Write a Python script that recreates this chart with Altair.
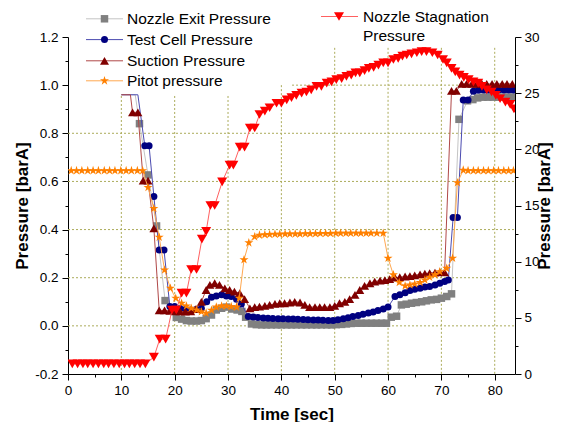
import altair as alt
import pandas as pd

# ---------------- data ----------------
# Nozzle Exit Pressure [barA] (left axis)
exit_lead_t = [10.0, 12.6]
exit_lead_v = [0.96, 0.96]
exit_t = [13.4, 15.0, 16.6, 18.2, 20.3, 21.3, 22.2, 23.1, 24.1, 25.0,
          25.9, 26.9, 27.8, 28.8, 29.7, 30.7, 31.7, 32.6, 33.3, 34.4,
          35.3, 36.3, 37.2, 38.1, 39.1, 40.0, 41.0, 41.9, 42.8, 43.8,
          44.7, 45.7, 46.6, 47.5, 48.5, 49.4, 50.3, 51.3, 52.2, 53.1,
          54.1, 55.0, 55.9, 56.9, 57.8, 58.8, 59.7, 60.6, 61.6, 62.5,
          63.4, 64.4, 65.3, 66.3, 67.2, 68.1, 69.1, 70.0, 71.0, 71.9,
          73.3, 74.9, 75.9, 76.8, 77.8, 78.7, 79.7, 80.6, 81.6, 82.5,
          83.5]
exit_v = [0.84, 0.627, 0.415, 0.105, 0.035, 0.028, 0.022, 0.02, 0.02, 0.022,
          0.03, 0.045, 0.066, 0.073, 0.078, 0.07, 0.066, 0.06, 0.036, 0.008,
          0.005, 0.004, 0.004, 0.004, 0.004, 0.004, 0.004, 0.004, 0.004, 0.004,
          0.004, 0.004, 0.004, 0.004, 0.004, 0.004, 0.005, 0.006, 0.008, 0.01,
          0.011, 0.011, 0.011, 0.011, 0.011, 0.011, 0.011, 0.036, 0.04, 0.087,
          0.09, 0.094, 0.097, 0.1, 0.104, 0.108, 0.11, 0.115, 0.122, 0.133,
          0.858, 0.935, 0.94, 0.947, 0.95, 0.95, 0.95, 0.95, 0.95, 0.95,
          0.95]

# Test Cell Pressure [barA] (left axis)
test_lead_t = [10.0, 13.1]
test_lead_v = [0.96, 0.96]
test_t = [14.4, 15.2, 16.1, 17.1, 18.0, 19.1, 20.0, 21.0, 22.0, 23.0,
          24.0, 25.0, 26.0, 26.9, 27.8, 28.8, 29.7, 30.6, 31.6, 32.5,
          33.8, 34.7, 35.6, 36.6, 37.5, 38.4, 39.4, 40.3, 41.3, 42.2,
          43.1, 44.1, 45.0, 46.0, 46.9, 47.8, 48.8, 49.7, 50.6, 51.6,
          52.5, 53.4, 54.4, 55.3, 56.3, 57.2, 58.1, 59.1, 60.0, 61.3,
          62.2, 63.2, 64.1, 65.0, 66.0, 66.9, 67.8, 68.8, 69.7, 70.6,
          71.3, 72.2, 73.0, 74.1, 75.0, 76.0, 76.9, 77.9, 78.8, 79.8,
          80.7, 81.7, 82.6, 83.5]
test_v = [0.748, 0.748, 0.537, 0.315, 0.315, 0.08, 0.08, 0.072, 0.068, 0.066,
          0.068, 0.073, 0.1, 0.119, 0.124, 0.129, 0.124, 0.122, 0.111, 0.091,
          0.039, 0.037, 0.035, 0.033, 0.032, 0.031, 0.03, 0.03, 0.029, 0.028,
          0.027, 0.026, 0.025, 0.024, 0.024, 0.023, 0.022, 0.022, 0.025, 0.03,
          0.034, 0.039, 0.043, 0.048, 0.053, 0.058, 0.064, 0.07, 0.078, 0.122,
          0.129, 0.138, 0.147, 0.152, 0.156, 0.161, 0.163, 0.17, 0.177, 0.184,
          0.191, 0.45, 0.45, 0.938, 0.938, 0.975, 0.979, 0.98, 0.98, 0.98,
          0.98, 0.98, 0.98, 0.98]

# Suction Pressure [barA] (left axis)
suc_lead_t = [10.0, 11.7]
suc_lead_v = [0.96, 0.96]
suc_t = [12.1, 13.1, 14.1, 15.0, 16.1, 17.1, 18.1, 19.1, 20.0, 21.0,
         22.0, 23.0, 24.0, 25.0, 25.9, 26.6, 27.5, 28.4, 29.4, 30.3,
         31.2, 32.2, 33.1, 34.1, 35.0, 35.9, 36.9, 37.8, 38.8, 39.7,
         40.6, 41.6, 42.5, 43.5, 44.4, 45.3, 46.3, 47.2, 48.1, 49.1,
         50.0, 50.9, 51.9, 52.8, 53.8, 54.7, 55.6, 56.6, 57.5, 58.5,
         59.4, 60.3, 61.3, 62.2, 63.2, 64.1, 65.0, 66.0, 66.9, 67.8,
         68.8, 69.7, 70.6, 71.9, 72.8, 73.8, 74.7, 75.7, 76.6, 77.6,
         78.5, 79.5, 80.4, 81.4, 82.3, 83.3]
suc_v = [0.887, 0.887, 0.603, 0.603, 0.405, 0.064, 0.064, 0.062, 0.06, 0.06,
         0.059, 0.06, 0.07, 0.1, 0.149, 0.17, 0.177, 0.17, 0.156, 0.149,
         0.142, 0.136, 0.111, 0.073, 0.078, 0.08, 0.083, 0.087, 0.091, 0.094,
         0.094, 0.097, 0.1, 0.097, 0.087, 0.078, 0.078, 0.078, 0.078, 0.078,
         0.083, 0.094, 0.1, 0.111, 0.129, 0.149, 0.166, 0.177, 0.184, 0.188,
         0.19, 0.194, 0.2, 0.202, 0.205, 0.207, 0.21, 0.214, 0.217, 0.219,
         0.221, 0.223, 0.222, 0.976, 0.976, 1.005, 1.005, 1.005, 1.005, 1.005,
         1.005, 1.005, 1.005, 1.005, 1.005, 1.005]

# Pitot pressure [barA] (left axis)
pit_t = [0.6, 1.6, 2.6, 3.7, 4.7, 5.7, 6.8, 7.8, 8.8, 9.9,
         10.9, 11.9, 13.0, 14.0, 15.0, 16.1, 17.1, 18.1, 19.2, 20.2,
         21.3, 22.2, 23.1, 24.1, 25.0, 25.9, 26.9, 27.8, 28.8, 29.7,
         30.6, 31.6, 32.1, 33.0, 33.9, 35.0, 35.9, 36.9, 37.8, 38.8,
         39.7, 40.7, 41.6, 42.6, 43.5, 44.5, 45.4, 46.4, 47.3, 48.3,
         49.2, 50.2, 51.1, 52.1, 53.0, 54.0, 54.9, 55.9, 56.8, 57.9,
         59.1, 60.0, 61.0, 62.1, 63.2, 64.1, 65.0, 66.0, 66.9, 67.8,
         68.8, 69.7, 71.0, 72.1, 73.0, 74.1, 75.0, 76.0, 76.9, 77.9,
         78.8, 79.8, 80.7, 81.7, 82.6, 83.5]
pit_v = [0.645, 0.645, 0.645, 0.645, 0.645, 0.645, 0.645, 0.645, 0.645, 0.645,
         0.645, 0.645, 0.645, 0.645, 0.575, 0.488, 0.368, 0.232, 0.156, 0.115,
         0.094, 0.083, 0.073, 0.066, 0.059, 0.053, 0.065, 0.078, 0.083, 0.083,
         0.08, 0.078, 0.115, 0.275, 0.345, 0.37, 0.377, 0.379, 0.38, 0.381,
         0.381, 0.382, 0.382, 0.382, 0.382, 0.383, 0.383, 0.383, 0.384, 0.384,
         0.384, 0.385, 0.385, 0.385, 0.385, 0.385, 0.385, 0.385, 0.385, 0.385,
         0.385, 0.281, 0.212, 0.18, 0.166, 0.17, 0.174, 0.18, 0.191, 0.202,
         0.212, 0.225, 0.239, 0.281, 0.595, 0.647, 0.645, 0.645, 0.645, 0.645,
         0.645, 0.645, 0.645, 0.645, 0.645, 0.645]

# Nozzle Stagnation Pressure [barA] (right axis)
stag_t = [0.8, 1.8, 2.8, 3.7, 4.7, 5.7, 6.7, 7.6, 8.6, 9.6,
          10.6, 11.5, 12.5, 13.5, 14.5, 16.1, 17.2, 18.3, 19.5, 20.3,
          21.3, 22.2, 23.1, 24.1, 25.1, 25.9, 26.7, 27.5, 28.9, 30.3,
          31.0, 32.2, 33.1, 34.1, 35.0, 35.9, 36.9, 37.8, 39.1, 40.0,
          41.0, 41.9, 42.8, 43.8, 44.7, 45.6, 46.6, 47.5, 48.5, 49.4,
          50.3, 51.3, 52.2, 53.1, 53.9, 54.7, 55.6, 56.4, 57.3, 58.2,
          59.1, 60.0, 61.0, 61.9, 62.7, 63.5, 64.4, 65.4, 66.3, 67.2,
          68.3, 69.3, 70.3, 71.0, 71.9, 72.6, 73.4, 74.2, 75.1, 76.0,
          76.9, 77.6, 78.5, 79.4, 80.2, 81.0, 82.0, 82.9, 83.6]
stag_r = [0.9, 0.9, 0.9, 0.9, 0.9, 0.9, 0.9, 0.9, 0.9, 0.9,
          0.9, 0.9, 0.9, 0.9, 0.9, 1.5, 3.1, 3.1, 5.7, 5.7,
          7.2, 7.2, 9.3, 9.3, 12.0, 12.7, 15.0, 15.0, 17.1, 18.6,
          18.6, 20.2, 20.2, 21.9, 21.9, 23.1, 23.4, 23.7, 24.1, 24.1,
          24.4, 24.6, 24.8, 25.0, 25.1, 25.3, 25.6, 25.6, 25.9, 26.0,
          26.2, 26.3, 26.5, 26.6, 26.8, 26.8, 27.0, 27.2, 27.3, 27.5,
          27.7, 27.7, 28.0, 28.1, 28.3, 28.4, 28.5, 28.6, 28.7, 28.7,
          28.6, 28.4, 28.0, 27.7, 27.2, 26.9, 26.6, 26.4, 26.2, 26.0,
          25.9, 25.6, 25.3, 25.1, 24.8, 24.5, 24.2, 24.0, 23.6]

legend_labels = ["Nozzle Exit Pressure", "Test Cell Pressure",
                 "Suction Pressure", "Pitot pressure"]
stag_label = ["Nozzle Stagnation", "Pressure"]

x_tick_values = [0, 5, 10, 15, 20, 25, 30, 35, 40, 45, 50, 55, 60, 65, 70, 75, 80]
left_tick_values = [-0.2, -0.1, 0.0, 0.1, 0.2, 0.3, 0.4, 0.5, 0.6, 0.7,
                    0.8, 0.9, 1.0, 1.1, 1.2]
right_tick_values = [0, 2.5, 5, 7.5, 10, 12.5, 15, 17.5, 20, 22.5, 25, 27.5, 30]

# ---------------- layout / style ----------------
W, H = 447, 337
X_MAX = 83.8
FONT = "Liberation Sans"
GRID = "#abab5a"
STAR = ("M0,-1L0.225,-0.31L0.951,-0.309L0.363,0.118L0.588,0.809L0,0.382"
        "L-0.588,0.809L-0.363,0.118L-0.951,-0.309L-0.225,-0.31Z")

xs = alt.Scale(domain=[0, X_MAX], nice=False, zero=False)
ys = alt.Scale(domain=[-0.2, 1.2], nice=False, zero=False)
rs = alt.Scale(domain=[0, 30], nice=False, zero=False)

MAJ_X = "datum.value % 10 === 0"
MAJ_Y = "abs(round(datum.value * 10)) % 2 === 0"
MAJ_R = "datum.value % 5 === 0"

x_axis = alt.Axis(
    values=x_tick_values, title="Time [sec]",
    labelExpr=f"{MAJ_X} ? format(datum.value, 'd') : ''",
    tickSize={"condition": {"test": MAJ_X, "value": 6}, "value": 3},
    grid=False, labelFlush=False, labelOverlap=False, labelPadding=3,
    labelFontSize=13.5, titleFontSize=17, titleFontWeight="bold",
    titleX=W / 2, titleY=40, titleAlign="center", titleBaseline="middle",
)
y_axis = alt.Axis(
    values=left_tick_values, title="Pressure [barA]",
    labelExpr=f"{MAJ_Y} ? replace(format(datum.value, '.1f'), '\u2212', '-') : ''",
    tickSize={"condition": {"test": MAJ_Y, "value": 6}, "value": 3},
    grid=False, labelFlush=False, labelOverlap=False, labelPadding=4,
    labelFontSize=13.5, titleFontSize=17, titleFontWeight="bold",
    titleAngle=270, titleX=-46, titleY=H / 2, titleAlign="center",
    titleBaseline="middle",
)
r_axis = alt.Axis(
    orient="right", values=right_tick_values, title="Pressure [barA]",
    labelExpr=f"{MAJ_R} ? format(datum.value, 'd') : ''",
    tickSize={"condition": {"test": MAJ_R, "value": 6}, "value": 3},
    grid=False, labelFlush=False, labelOverlap=False, labelPadding=3,
    labelFontSize=13.5, titleFontSize=17, titleFontWeight="bold",
    titleAngle=270, titleX=29, titleY=H / 2, titleAlign="center",
    titleBaseline="middle",
)

X = lambda f: alt.X(f, type="quantitative", scale=xs, axis=x_axis)
Y = lambda f: alt.Y(f, type="quantitative", scale=ys, axis=y_axis)
R = lambda f: alt.Y(f, type="quantitative", scale=rs, axis=r_axis)


def series(t, v, lead_t, lead_v, ychan, line_color, mark_color, shape, size):
    line_df = pd.DataFrame({"t": lead_t + t, "v": lead_v + v})
    pt_df = pd.DataFrame({"t": t, "v": v})
    line = alt.Chart(line_df).mark_line(
        color=line_color, strokeWidth=1, clip=True
    ).encode(x=X("t"), y=ychan("v"), order="t:Q")
    pts = alt.Chart(pt_df).mark_point(
        shape=shape, size=size, filled=True, color=mark_color,
        opacity=1, strokeWidth=0, clip=True
    ).encode(x=X("t"), y=ychan("v"))
    return [line, pts]


# grid (dotted olive); vertical lines partly hidden by the legend box
grid_vx = [10, 20, 30, 40, 50, 60, 70, 80]
grid_vtop = [0.955, 0.955, 0.955, 1.0, 1.155, 1.155, 1.155, 1.155]
grid_hy = [0.0, 0.2, 0.4, 0.6, 0.8, 1.0]
grid_hx0 = [0, 0, 0, 0, 0, 42]
vgrid = alt.Chart(pd.DataFrame({"t": grid_vx, "top": grid_vtop, "bot": [-0.2] * 8})).mark_rule(
    color=GRID, strokeWidth=1, strokeDash=[2, 2]
).encode(x=X("t"), y=Y("top"), y2="bot")
hgrid = alt.Chart(pd.DataFrame({"v": grid_hy, "x0": grid_hx0, "x1": [X_MAX] * 6})).mark_rule(
    color=GRID, strokeWidth=1, strokeDash=[2, 2]
).encode(y=Y("v"), x=X("x0"), x2="x1")


def legend_entry(px_line, px_mark, px_text, py, shape, size, mcolor, lcolor, label):
    base = alt.Chart(pd.DataFrame({"label": [label]}))
    line = base.mark_rule(color=lcolor, strokeWidth=1).encode(
        x=alt.value(px_line[0]), x2=alt.value(px_line[1]), y=alt.value(py))
    pt = base.mark_point(shape=shape, size=size, filled=True, color=mcolor,
                         opacity=1, strokeWidth=0).encode(
        x=alt.value(px_mark), y=alt.value(py))
    txt = base.mark_text(align="left", baseline="middle", font=FONT,
                         fontSize=15.5, color="black").encode(
        x=alt.value(px_text), y=alt.value(py), text="label:N")
    return [line, pt, txt]


styles = [
    ("square", 56, "#808080", "#c4c4c4"),
    ("circle", 49, "#000080", "#4b4bb0"),
    ("triangle-up", 81, "#800000", "#b04848"),
    (STAR, 90, "#ff8000", "#ffa850"),
]
rows_y = [-18.2, 2.6, 23.8, 43.8]

left_layers = [vgrid, hgrid]
left_layers += series(exit_t, exit_v, exit_lead_t, exit_lead_v, Y, styles[0][3], styles[0][2], styles[0][0], styles[0][1])
left_layers += series(test_t, test_v, test_lead_t, test_lead_v, Y, styles[1][3], styles[1][2], styles[1][0], styles[1][1])
left_layers += series(suc_t, suc_v, suc_lead_t, suc_lead_v, Y, styles[2][3], styles[2][2], styles[2][0], styles[2][1])
left_layers += series(pit_t, pit_v, [], [], Y, styles[3][3], styles[3][2], styles[3][0], styles[3][1])
for i, lab in enumerate(legend_labels):
    shp, sz, mc, lc = styles[i]
    left_layers += legend_entry((18, 55), 36.5, 59, rows_y[i], shp, sz, mc, lc, lab)

right_layers = series(stag_t, stag_r, [], [], R, "#ff6060", "#ff0000", "triangle-down", 100)
right_layers += legend_entry((253, 290), 271, 295, -20.5, "triangle-down", 100, "#ff0000", "#ff6060", stag_label[0])
right_layers.append(
    alt.Chart(pd.DataFrame({"label": [stag_label[1]]})).mark_text(
        align="left", baseline="middle", font=FONT, fontSize=15.5, color="black"
    ).encode(x=alt.value(295), y=alt.value(-1.5), text="label:N")
)

left = alt.layer(*left_layers)
right = alt.layer(*right_layers)

chart = alt.layer(left, right).resolve_scale(y="independent").properties(
    width=W, height=H,
    padding={"left": 60, "top": 29, "right": 40, "bottom": 48},
    autosize=alt.AutoSizeParams(type="none"),
    background="white",
).configure_view(stroke=None).configure_axis(
    domainColor="black", domainWidth=1, tickColor="black", tickWidth=1,
    labelColor="black", titleColor="black", labelFont=FONT, titleFont=FONT,
)

chart.save("out.html", embed_options={"renderer": "svg", "actions": False})
